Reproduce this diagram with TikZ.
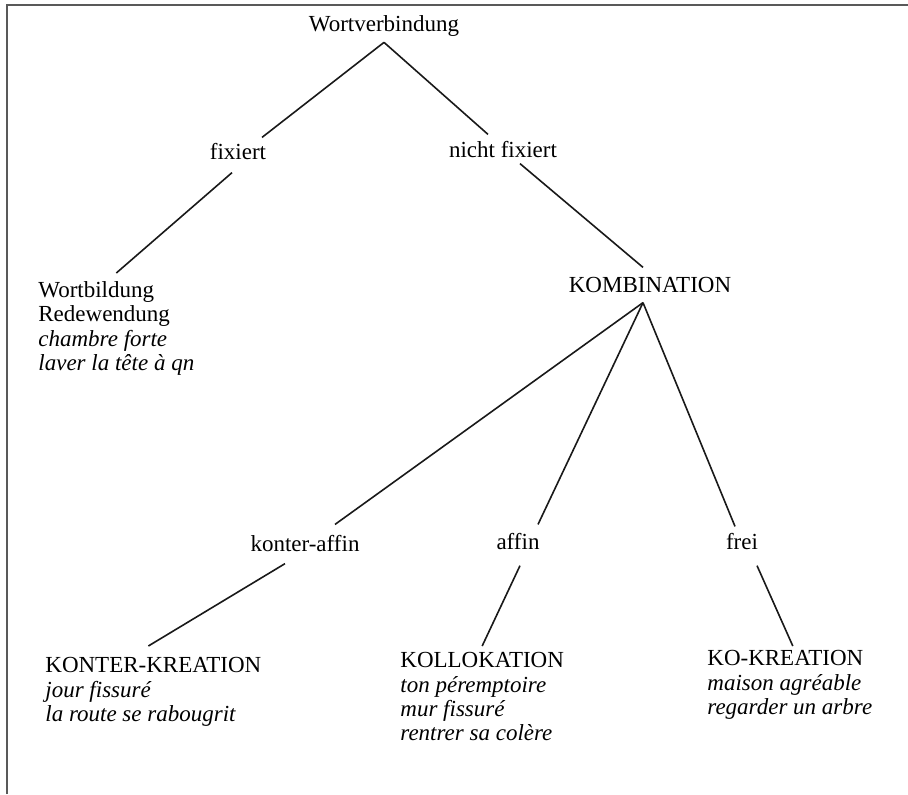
\documentclass[tikz,border=0pt]{standalone}
\usepackage{fontspec}
\setmainfont{Liberation Serif}

\begin{document}
\begin{tikzpicture}[x=0.5pt, y=-0.5pt,
    every node/.style={inner sep=0pt, font=\fontsize{11.5}{12.2}\selectfont},
    lbl/.style={anchor=base},
    blk/.style={anchor=north west, align=left},
    branch/.style={line width=0.8pt, black!90}]
    \useasboundingbox (0,0) rectangle (908,794);

    % --- frame (top and left edge only) ---
    \draw[line width=1pt, black!65] (7,794) -- (7,5) -- (908,5);

    % --- upper levels ---
    \node[lbl] (wv) at (384,31) {Wortverbindung};
    \node[lbl] (fix) at (238,159) {fixiert};
    \node[lbl] (nfix) at (503,157) {nicht fixiert};
    \node[blk] (wb) at (38,281) {Wortbildung\\Redewendung\\\textit{chambre forte}\\\textit{laver la tête à qn}};
    \node[lbl] (komb) at (650,292) {KOMBINATION};

    % --- middle level (below KOMBINATION) ---
    \node[lbl] (kaff) at (305,551) {konter-affin};
    \node[lbl] (aff) at (518,549) {affin};
    \node[lbl] (frei) at (742,549) {frei};

    % --- leaves ---
    \node[blk] (kk) at (45,657) {KONTER-KREATION\\\textit{jour fissuré}\\\textit{la route se rabougrit}};
    \node[blk] (koll) at (400,652) {KOLLOKATION\\\textit{ton péremptoire}\\\textit{mur fissuré}\\\textit{rentrer sa colère}};
    \node[blk] (ko) at (707,650) {KO-KREATION\\\textit{maison agréable}\\\textit{regarder un arbre}};

    % --- branches ---
    \coordinate (wvb) at ([yshift=-3pt]wv.south);
    \coordinate (kb) at ([xshift=-3.5pt,yshift=-5pt]komb.south);
    \draw[branch] (wvb) -- ([xshift=12pt,yshift=2.5pt]fix.north);
    \draw[branch] (wvb) -- ([xshift=-7.5pt,yshift=3pt]nfix.north);
    \draw[branch] ([xshift=-3pt,yshift=-6.5pt]fix.south) -- ([yshift=4pt]wb.north);
    \draw[branch] ([xshift=8.5pt,yshift=-3pt]nfix.south) -- ([xshift=-3.5pt,yshift=4.5pt]komb.north);
    \draw[branch] (kb) -- ([xshift=15pt,yshift=5pt]kaff.north);
    \draw[branch] (kb) -- ([xshift=10pt,yshift=4pt]aff.north);
    \draw[branch] (kb) -- ([xshift=-3.5pt,yshift=3pt]frei.north);
    \draw[branch] ([xshift=-10pt,yshift=-6pt]kaff.south) -- ([xshift=-2.5pt,yshift=5.5pt]kk.north);
    \draw[branch] ([xshift=1pt,yshift=-8pt]aff.south) -- ([yshift=3pt]koll.north);
    \draw[branch] ([xshift=7.5pt,yshift=-8pt]frei.south) -- ([xshift=1.5pt,yshift=2pt]ko.north);

\end{tikzpicture}
\end{document}
